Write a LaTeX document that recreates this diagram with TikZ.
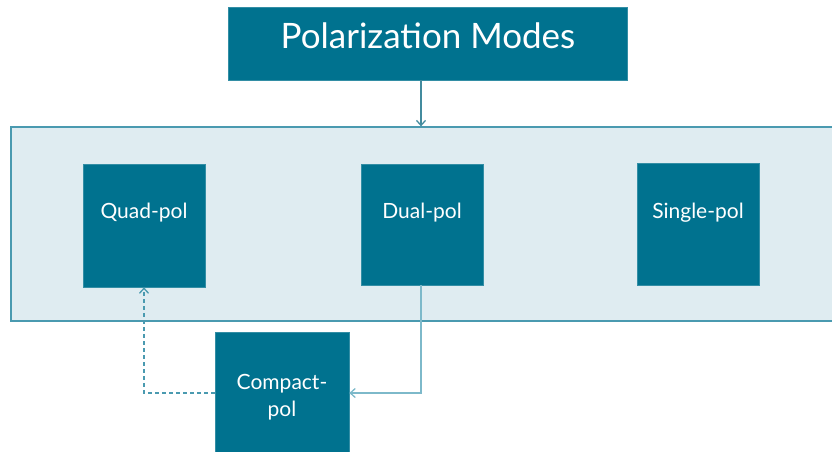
\documentclass[tikz,border=0pt]{standalone}
\usepackage{fontspec}
\setmainfont{Lato}
\usetikzlibrary{arrows.meta}
\definecolor{boxc}{HTML}{00728F}
\definecolor{panel}{HTML}{DFECF1}
\definecolor{edge}{HTML}{4A9AB0}
\definecolor{lightedge}{HTML}{7DB9CA}
\tikzset{
  modebox/.style={fill=boxc, draw=boxc!80!white, line width=0.6pt, inner sep=0pt},
  modetext/.style={text=white, font=\fontsize{21}{27}\selectfont, align=center, inner sep=0pt},
  conn/.style={draw=edge, line width=1.3pt, -{Straight Barb[length=5pt,width=9pt,line width=1.3pt]}},
}
\begin{document}
\begin{tikzpicture}[x=1pt,y=-1pt]
\useasboundingbox (0,0) rectangle (832,451);
% title
\node[modebox, minimum width=399pt, minimum height=73pt] (title) at (427.5,43.5) {};
\node[modetext, font=\fontsize{35}{40}\selectfont] (titletext) at (428,36) {Polarization Modes};
% panel
\node[fill=panel, draw=edge, line width=1.3pt, minimum width=823pt, minimum height=194pt, inner sep=0pt] (panel) at (422.5,224) {};
% boxes
\node[modebox, minimum width=122pt, minimum height=123pt] (quad) at (144,225.5) {};
\node[modetext] (quadtext) at (144,213) {Quad-pol};
\node[modebox, minimum width=122pt, minimum height=121pt] (dual) at (422,224.5) {};
\node[modetext] (dualtext) at (422,213) {Dual-pol};
\node[modebox, minimum width=122pt, minimum height=122pt] (single) at (698,224) {};
\node[modetext] (singletext) at (698,213) {Single-pol};
\node[modebox, minimum width=134pt, minimum height=124pt] (compact) at (282,394) {};
\node[modetext] (compacttext) at (282,397) {Compact-\\pol};
% connectors
\draw[conn, draw=edge!90!black] (title.south -| 421,0) -- (panel.north -| 421,0);
\coordinate (c1) at (421,393);
\draw[conn, draw=lightedge] (dual.south -| 421,0) -- (c1) -- (compact.east |- c1);
\coordinate (c2) at (144,393);
\draw[conn, dashed, dash pattern=on 4pt off 3pt] (compact.west |- c2) -- (c2) -- (quad.south);
\end{tikzpicture}
\end{document}
